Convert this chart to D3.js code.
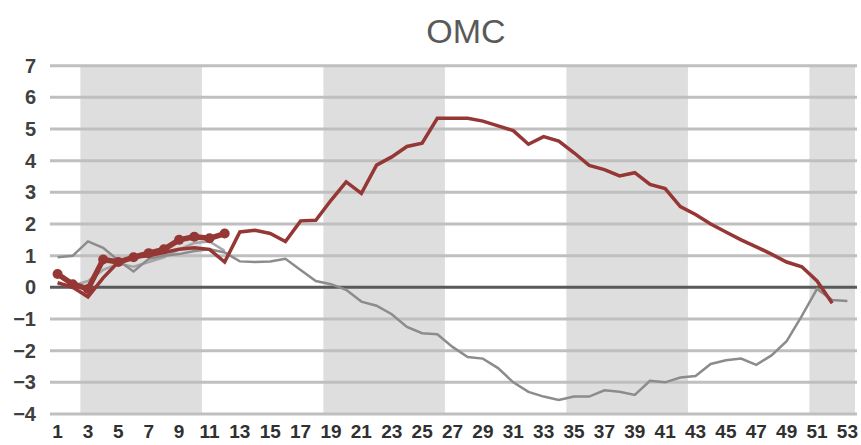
<!DOCTYPE html>
<html>
<head>
<meta charset="utf-8">
<script src="https://cdn.jsdelivr.net/npm/d3@7"></script>
<style>
  html, body { margin: 0; padding: 0; background: #fff; }
  svg text { font-family: "Liberation Sans", Arial, sans-serif; }
</style>
</head>
<body>
<svg id="chart" width="861" height="445"></svg>
<script>
// week numbers on the x axis
const weeks = [1, 2, 3, 4, 5, 6, 7, 8, 9, 10, 11, 12, 13, 14, 15, 16, 17, 18, 19, 20,
  21, 22, 23, 24, 25, 26, 27, 28, 29, 30, 31, 32, 33, 34, 35, 36, 37, 38, 39, 40,
  41, 42, 43, 44, 45, 46, 47, 48, 49, 50, 51, 52, 53];

const yTicks = [-4, -3, -2, -1, 0, 1, 2, 3, 4, 5, 6, 7];

// shaded week spans (first week, last week)
const shaded = [[3, 10], [19, 26], [35, 42], [51, 53]];

// thin red line, weeks 1..52
const redPrior = [0.15, 0.0, -0.3, 0.3, 0.8, 0.95, 1.0, 1.1, 1.2, 1.25, 1.2, 0.8,
  1.75, 1.8, 1.7, 1.45, 2.1, 2.12, 2.75, 3.33, 2.97, 3.86, 4.12, 4.45, 4.55, 5.34,
  5.34, 5.34, 5.25, 5.1, 4.95, 4.52, 4.76, 4.62, 4.25, 3.85, 3.72, 3.52, 3.62, 3.25,
  3.12, 2.55, 2.3, 2.0, 1.75, 1.5, 1.28, 1.05, 0.8, 0.65, 0.2, -0.5];

// thick red line with markers, weeks 1..12
const redCurrent = [0.42, 0.1, -0.05, 0.88, 0.8, 0.95, 1.08, 1.2, 1.5, 1.6, 1.55, 1.7];

// thin gray line, weeks 1..53
const grayAvg = [0.95, 1.0, 1.45, 1.25, 0.85, 0.5, 0.9, 1.0, 1.05, 1.15, 1.2, 1.1,
  0.82, 0.8, 0.82, 0.9, 0.55, 0.2, 0.1, -0.08, -0.45, -0.58, -0.85, -1.25, -1.45, -1.48,
  -1.88, -2.2, -2.25, -2.55, -3.0, -3.3, -3.45, -3.56, -3.45, -3.45, -3.25, -3.3, -3.4, -2.95,
  -3.0, -2.85, -2.8, -2.42, -2.3, -2.25, -2.45, -2.15, -1.7, -0.9, -0.05, -0.4, -0.43];

// light gray line, weeks 1..12
const grayOther = [0.1, 0.05, 0.2, 0.55, 0.75, 0.65, 0.8, 0.95, 1.2, 1.4, 1.45, 1.15];

const RED = "#953735";
const GRAY = "#8c8c8c";

const svg = d3.select("#chart");

const x = d3.scaleBand().domain(weeks).range([50, 855]).padding(0);
const y = d3.scaleLinear().domain([-4, 7]).range([414, 65.7]);
const cx = (w) => x(w) + x.bandwidth() / 2;

// shaded bands
svg.append("g")
  .selectAll("rect")
  .data(shaded)
  .join("rect")
  .attr("x", (d) => x(d[0]))
  .attr("width", (d) => x(d[1]) + x.bandwidth() - x(d[0]))
  .attr("y", y(7))
  .attr("height", y(-4) - y(7))
  .attr("fill", "#dedede");

// gridlines
svg.append("g")
  .selectAll("line")
  .data(yTicks.filter((t) => t !== 0))
  .join("line")
  .attr("x1", 50)
  .attr("x2", 857)
  .attr("y1", (d) => y(d))
  .attr("y2", (d) => y(d))
  .attr("stroke", "#bfbfbf")
  .attr("stroke-width", 3);

svg.append("line")
  .attr("x1", 50)
  .attr("x2", 857)
  .attr("y1", y(0))
  .attr("y2", y(0))
  .attr("stroke", "#595959")
  .attr("stroke-width", 3);

// axes (labels only)
const yAxis = svg.append("g")
  .attr("transform", "translate(36,0)")
  .call(d3.axisLeft(y).tickValues(yTicks).tickSize(0).tickPadding(0));
yAxis.select(".domain").remove();
yAxis.selectAll("text")
  .attr("font-size", 20)
  .attr("font-weight", "bold")
  .attr("fill", "#404040");

const xAxis = svg.append("g")
  .attr("transform", "translate(0,424)")
  .call(d3.axisBottom(x).tickValues(weeks.filter((w) => w % 2 === 1)).tickSize(0).tickPadding(0));
xAxis.select(".domain").remove();
xAxis.selectAll("text")
  .attr("font-size", 19)
  .attr("font-weight", "bold")
  .attr("fill", "#303030");

// lines
const line = d3.line()
  .x((d, i) => cx(weeks[i]))
  .y((d) => y(d));

svg.append("path")
  .attr("d", line(grayOther))
  .attr("fill", "none")
  .attr("stroke", "#a6a6a6")
  .attr("stroke-width", 2.5);

svg.append("path")
  .attr("d", line(grayAvg))
  .attr("fill", "none")
  .attr("stroke", GRAY)
  .attr("stroke-width", 2.5);

svg.append("path")
  .attr("d", line(redPrior))
  .attr("fill", "none")
  .attr("stroke", RED)
  .attr("stroke-width", 3.5);

svg.append("path")
  .attr("d", line(redCurrent))
  .attr("fill", "none")
  .attr("stroke", RED)
  .attr("stroke-width", 5.5)
  .attr("stroke-linejoin", "round");

svg.append("g")
  .selectAll("circle")
  .data(redCurrent)
  .join("circle")
  .attr("cx", (d, i) => cx(weeks[i]))
  .attr("cy", (d) => y(d))
  .attr("r", 5)
  .attr("fill", RED);

// title
svg.append("text")
  .attr("x", 466)
  .attr("y", 43)
  .attr("text-anchor", "middle")
  .attr("font-size", 34)
  .attr("fill", "#595959")
  .text("OMC");
</script>
</body>
</html>
